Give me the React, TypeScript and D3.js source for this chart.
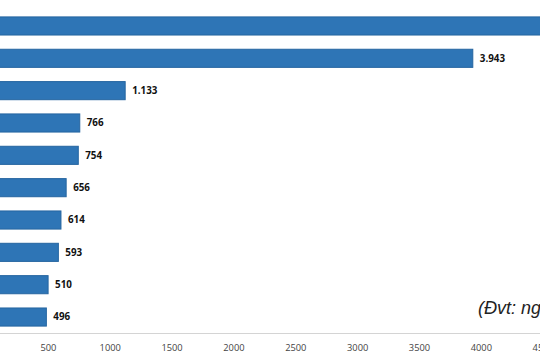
import React from "react";
import * as d3 from "d3";

const categories = ["Mục 1", "Mục 2", "Mục 3", "Mục 4", "Mục 5", "Mục 6", "Mục 7", "Mục 8", "Mục 9", "Mục 10"];
const values = [4800, 3943, 1133, 766, 754, 656, 614, 593, 510, 496];
const tickValues = [0, 500, 1000, 1500, 2000, 2500, 3000, 3500, 4000, 4500];
const unitNote = "(Đvt: người)";

const W = 540;
const H = 360;

export default function App() {
  const x = d3.scaleLinear().domain([0, 4500]).range([-15, 541.7]);
  const y = d3.scaleBand<string>().domain(categories).range([9.8, 333.2]).paddingInner(0.44).paddingOuter(0.22);
  const fmt = (v: number) => d3.format(",")(v).replace(/,/g, ".");
  return (
    <svg width={W} height={H} style={{ position: "absolute", left: 0, top: 0, background: "#fff" }}>
      {categories.map((c, i) => (
        <g key={c}>
          <rect
            x={x(0)}
            y={y(c)!}
            width={x(values[i]) - x(0)}
            height={y.bandwidth()}
            fill="#2E75B6"
            stroke="#2565A0"
            strokeWidth={1}
          />
          <text
            x={x(values[i]) + 7}
            y={y(c)! + y.bandwidth() / 2}
            dy="0.35em"
            fontFamily="'Open Sans', 'Liberation Sans', sans-serif"
            fontWeight="bold"
            fontSize={9.8}
            fill="#111"
          >
            {fmt(values[i])}
          </text>
        </g>
      ))}
      <line x1={0} x2={W} y1={333.5} y2={333.5} stroke="#d4d4d4" strokeWidth={1} />
      {tickValues.map((t) => (
        <text
          key={t}
          x={x(t) + 1.5}
          y={351}
          textAnchor="middle"
          fontFamily="'Open Sans', 'Liberation Sans', sans-serif"
          fontSize={9.3}
          fill="#444"
        >
          {t}
        </text>
      ))}
      <text
        x={478}
        y={313.5}
        fontFamily="'Liberation Sans', Arial, sans-serif"
        fontStyle="italic"
        fontSize={18}
        fill="#222"
      >
        {unitNote}
      </text>
    </svg>
  );
}
